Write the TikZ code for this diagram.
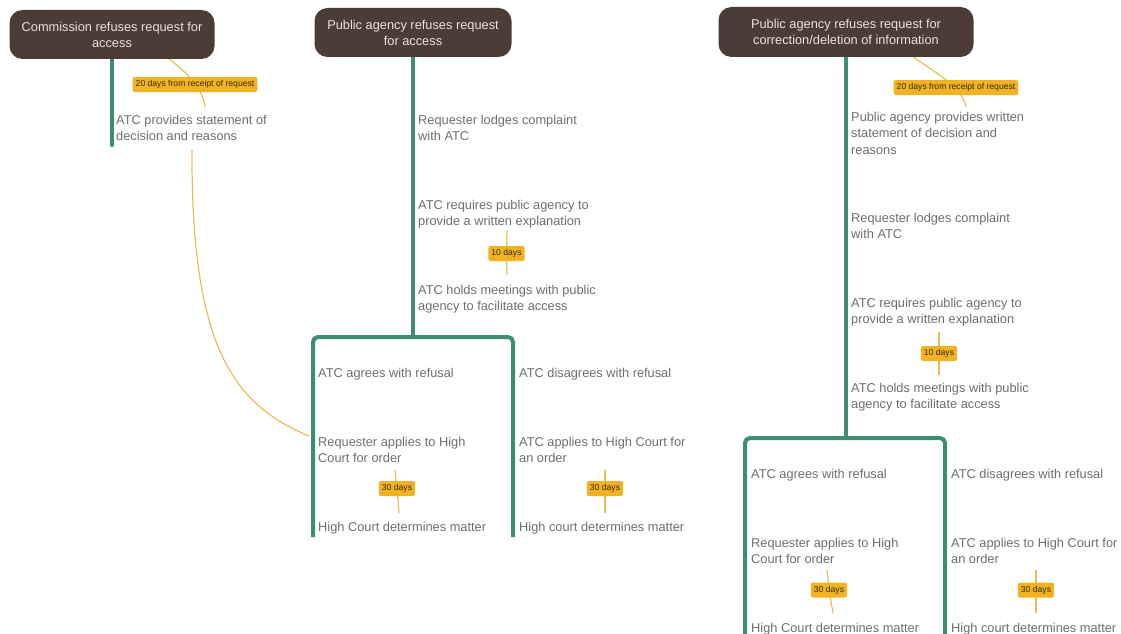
\documentclass[tikz,border=0pt]{standalone}
\usepackage{fontspec}
\setmainfont{Liberation Sans}
\usetikzlibrary{backgrounds}
\definecolor{brownbox}{HTML}{4D3B35}
\definecolor{boxtext}{HTML}{E8E2DE}
\definecolor{trunkgreen}{HTML}{3F8C72}
\definecolor{stepgray}{HTML}{6E6E6E}
\definecolor{tagfill}{HTML}{F0B323}
\definecolor{tagtext}{HTML}{3A2A0A}
\definecolor{tagline}{HTML}{E6BF5A}
\tikzset{
  headbox/.style={fill=brownbox, text=boxtext, rounded corners=13pt, align=center, inner sep=0pt, font=\fontsize{12.8}{16}\selectfont},
  stepnode/.style={anchor=north west, inner sep=0pt, align=left, text=stepgray, font=\fontsize{12.8}{16.5}\selectfont},
  tag/.style={fill=tagfill, text=tagtext, rounded corners=2pt, inner xsep=3pt, inner ysep=0pt, minimum height=15pt, font=\fontsize{8.6}{10}\selectfont},
  trunk/.style={draw=trunkgreen, line width=4pt},
  tagwire/.style={draw=tagline, line width=1.2pt},
}
\begin{document}
\begin{tikzpicture}[x=1pt,y=-1pt]
\useasboundingbox (0,0) rectangle (1121,634);
% heads
\node[headbox, minimum width=205pt, minimum height=49pt] (L) at (112,34.5) {Commission refuses request for\\access};
\node[headbox, minimum width=197pt, minimum height=49pt] (M) at (413,32.5) {Public agency refuses request\\for access};
\node[headbox, minimum width=255pt, minimum height=50pt] (R) at (846,32) {Public agency refuses request for\\correction/deletion of information};
% left column
\node[stepnode] (Lt1) at (116,115) {ATC provides statement of\\decision and reasons};
% middle column
\node[stepnode] (Mt1) at (418,115) {Requester lodges complaint\\with ATC};
\node[stepnode] (Mt2) at (418,200) {ATC requires public agency to\\provide a written explanation};
\node[stepnode] (Mt3) at (418,285) {ATC holds meetings with public\\agency to facilitate access};
\node[stepnode] (Ma1) at (318,368) {ATC agrees with refusal};
\node[stepnode] (Ma2) at (318,437) {Requester applies to High\\Court for order};
\node[stepnode] (Ma3) at (318,522) {High Court determines matter};
\node[stepnode] (Md1) at (519,368) {ATC disagrees with refusal};
\node[stepnode] (Md2) at (519,437) {ATC applies to High Court for\\an order};
\node[stepnode] (Md3) at (519,522) {High court determines matter};
% right column
\node[stepnode] (Rt0) at (851,112) {Public agency provides written\\statement of decision and\\reasons};
\node[stepnode] (Rt1) at (851,213) {Requester lodges complaint\\with ATC};
\node[stepnode] (Rt2) at (851,298) {ATC requires public agency to\\provide a written explanation};
\node[stepnode] (Rt3) at (851,383) {ATC holds meetings with public\\agency to facilitate access};
\node[stepnode] (Ra1) at (751,469) {ATC agrees with refusal};
\node[stepnode] (Ra2) at (751,538) {Requester applies to High\\Court for order};
\node[stepnode] (Ra3) at (751,623) {High Court determines matter};
\node[stepnode] (Rd1) at (951,469) {ATC disagrees with refusal};
\node[stepnode] (Rd2) at (951,538) {ATC applies to High Court for\\an order};
\node[stepnode] (Rd3) at (951,623) {High court determines matter};
% tags
\node[tag] (L20) at (195,84.5) {20 days from receipt of request};
\node[tag] (M10) at (506.5,253.5) {10 days};
\node[tag] (Ma30) at (397,488.5) {30 days};
\node[tag] (Md30) at (605,488.5) {30 days};
\node[tag] (R20) at (956,87.5) {20 days from receipt of request};
\node[tag] (R10) at (939,353.5) {10 days};
\node[tag] (Ra30) at (829,590) {30 days};
\node[tag] (Rd30) at (1036,590) {30 days};
% coordinates
\coordinate (Lend) at (112,145);
\coordinate (mtop) at (413,337);
\coordinate (MbL) at (313,537);
\coordinate (MbR) at (513,537);
\coordinate (rtop) at (846,438);
\coordinate (RbL) at (745,640);
\coordinate (RbR) at (945,640);
\coordinate (l20a) at (168,58);
\coordinate (l20b) at (205,107);
\coordinate (lc1) at (192,150);
\coordinate (lc2) at (309,436);
\coordinate (m10a) at (507,230);
\coordinate (m10b) at (507,275);
\coordinate (ma30a) at (395,470);
\coordinate (ma30b) at (399,513);
\coordinate (md30a) at (605,470);
\coordinate (md30b) at (605,513);
\coordinate (r20a) at (913,57);
\coordinate (r20b) at (966,107);
\coordinate (r10a) at (939,332);
\coordinate (r10b) at (939,375);
\coordinate (ra30a) at (827,570);
\coordinate (ra30b) at (833,613);
\coordinate (rd30a) at (1036,570);
\coordinate (rd30b) at (1036,613);
\begin{pgfonlayer}{background}
\draw[trunk, line cap=round] (L.south) -- (Lend);
\draw[trunk] (M.south) -- (mtop);
\draw[trunk, rounded corners=5pt] (MbL) |- (mtop) -| (MbR);
\draw[trunk] (R.south) -- (rtop);
\draw[trunk, rounded corners=5pt] (RbL) |- (rtop) -| (RbR);
\draw[tagwire] (l20a) .. controls (186,72) and (203,88) .. (l20b);
\draw[tagwire] (lc1) .. controls (191,350) and (235,405) .. (lc2);
\draw[tagwire] (m10a) -- (M10.center) -- (m10b);
\draw[tagwire] (ma30a) -- (Ma30.center) -- (ma30b);
\draw[tagwire] (md30a) -- (Md30.center) -- (md30b);
\draw[tagwire] (r20a) .. controls (935,72) and (963,88) .. (r20b);
\draw[tagwire] (r10a) -- (R10.center) -- (r10b);
\draw[tagwire] (ra30a) -- (Ra30.center) -- (ra30b);
\draw[tagwire] (rd30a) -- (Rd30.center) -- (rd30b);
\end{pgfonlayer}
\end{tikzpicture}
\end{document}
